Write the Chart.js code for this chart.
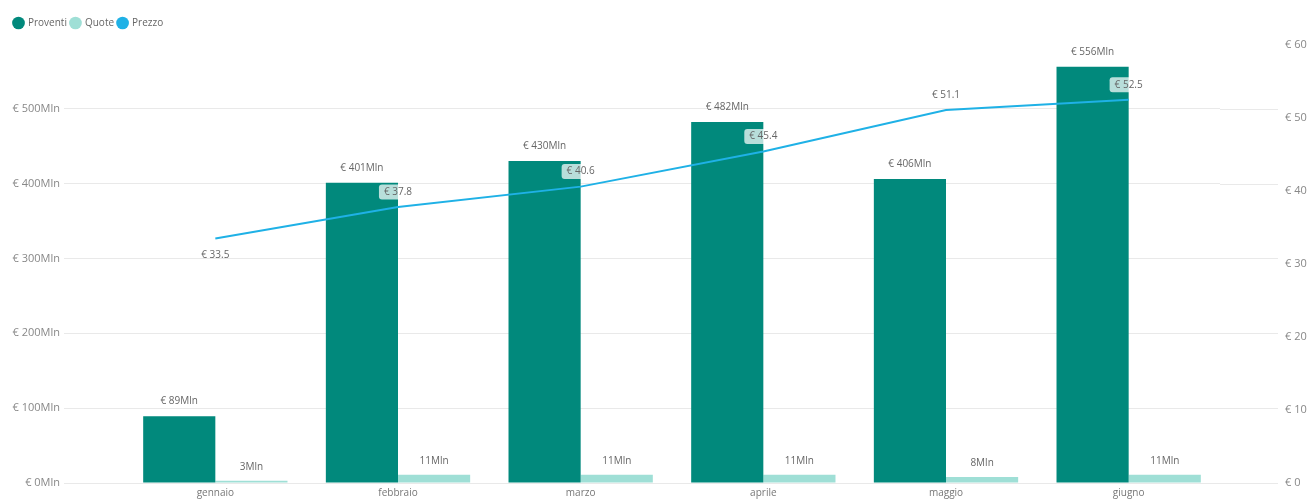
<!DOCTYPE html>
<html><head><meta charset="utf-8">
<script src="https://cdn.jsdelivr.net/npm/chart.js@4/dist/chart.umd.min.js"></script>
<style>html,body{margin:0;padding:0;background:#fff;overflow:hidden}canvas{display:block}</style>
</head><body><canvas id="c" width="1309" height="499"></canvas>
<script>
const categories = ['gennaio','febbraio','marzo','aprile','maggio','giugno'];
const proventi = [89,401,430,482,406,556];
const quote = [3,11,11,11,8,11];
const prezzo = [33.5,37.8,40.6,45.4,51.1,52.5];
const leftTicks = [0,100,200,300,400,500];
const rightTicks = [0,10,20,30,40,50,60];

const GRID = '#e9e9e9';
const LABEL_FONT = '10px "Open Sans"';

const extendGrid = {
  id: 'extendGrid',
  afterInit(chart) {
    const lg = chart.legend;
    if (lg) {
      const orig = lg.fit.bind(lg);
      lg.fit = function(){ orig(); this.height = 31; };
    }
  },
  beforeDatasetsDraw(chart) {
    const y = chart.scales.y, ca = chart.chartArea, ctx = chart.ctx;
    ctx.save();
    ctx.strokeStyle = GRID; ctx.lineWidth = 1;
    y.ticks.forEach(t => {
      const py = Math.round(y.getPixelForValue(t.value)) + 0.5;
      ctx.beginPath(); ctx.moveTo(ca.right, py); ctx.lineTo(ca.right + 58, py); ctx.stroke();
    });
    ctx.restore();
  }
};

const dataLabels = {
  id: 'dataLabels',
  afterDatasetsDraw(chart) {
    const ctx = chart.ctx;
    ctx.save();
    ctx.font = LABEL_FONT;
    ctx.textAlign = 'center';
    ctx.textBaseline = 'middle';
    chart.getDatasetMeta(0).data.forEach((el, i) => {
      ctx.fillStyle = '#666';
      ctx.fillText('€ ' + proventi[i] + 'Mln', el.x, el.y - 15);
    });
    chart.getDatasetMeta(1).data.forEach((el, i) => {
      ctx.fillStyle = '#666';
      ctx.fillText(quote[i] + 'Mln', el.x, el.y - 14);
    });
    chart.getDatasetMeta(2).data.forEach((el, i) => {
      const txt = '€ ' + prezzo[i].toFixed(1);
      const cy = i === 0 ? el.y + 17 : el.y - 15;
      const w = ctx.measureText(txt).width + 10, h = 15;
      if (i !== 0) {
        ctx.fillStyle = 'rgba(255,255,255,0.72)';
        ctx.beginPath();
        if (ctx.roundRect) ctx.roundRect(el.x - w/2, cy - h/2, w, h, 3); else ctx.rect(el.x - w/2, cy - h/2, w, h);
        ctx.fill();
      }
      ctx.fillStyle = '#666';
      ctx.fillText(txt, el.x, cy);
    });
    ctx.restore();
  }
};

const chart = new Chart(document.getElementById('c'), {
  data: {
    labels: categories,
    datasets: [
      { type: 'bar', label: 'Proventi', data: proventi, backgroundColor: '#01897c', yAxisID: 'y', order: 2,
        categoryPercentage: 0.79, barPercentage: 1.0 },
      { type: 'bar', label: 'Quote', data: quote, backgroundColor: '#9fdfd6', yAxisID: 'y', order: 3,
        categoryPercentage: 0.79, barPercentage: 1.0 },
      { type: 'line', label: 'Prezzo', data: prezzo, borderColor: '#1fb1e6', backgroundColor: '#1fb1e6',
        borderWidth: 2, pointRadius: 0, tension: 0, yAxisID: 'y1', order: 1 }
    ]
  },
  options: {
    responsive: false, animation: false,
    layout: { padding: { top: 14, left: 10, right: 0, bottom: -4 } },
    plugins: {
      legend: {
        position: 'top', align: 'start',
        labels: { usePointStyle: true, pointStyle: 'circle', boxWidth: 9, boxHeight: 9, padding: 4,
          color: '#666', font: { family: '"Open Sans"', size: 10 },
          sort: (a, b) => a.datasetIndex - b.datasetIndex,
          generateLabels: (ch) => Chart.defaults.plugins.legend.labels.generateLabels(ch).map(l => Object.assign(l, { lineWidth: 0, strokeStyle: 'rgba(0,0,0,0)' }))
        }
      },
      tooltip: { enabled: false }
    },
    scales: {
      x: {
        grid: { display: false, drawTicks: false }, border: { display: false },
        ticks: { color: '#777', padding: 4, font: { family: '"Open Sans"', size: 10 } }
      },
      y: {
        position: 'left', min: 0, max: 585,
        afterBuildTicks: s => { s.ticks = leftTicks.map(v => ({ value: v })); },
        afterFit: s => { s.width = 114; },
        grid: { color: GRID, drawTicks: true, tickLength: 60, tickColor: GRID },
        border: { display: false },
        ticks: { padding: 4, color: '#888', font: { family: '"Open Sans"', size: 11 },
          callback: v => '€ ' + v + 'Mln' }
      },
      y1: {
        position: 'right', min: 0, max: 60,
        afterBuildTicks: s => { s.ticks = rightTicks.map(v => ({ value: v })); },
        afterFit: s => { s.width = 89; },
        grid: { drawOnChartArea: false, drawTicks: true, tickLength: 62, tickColor: 'rgba(0,0,0,0)' }, border: { display: false },
        ticks: { padding: 3, color: '#888', font: { family: '"Open Sans"', size: 11 },
          callback: v => '€ ' + v }
      }
    }
  },
  plugins: [extendGrid, dataLabels]
});
</script>
</body></html>
